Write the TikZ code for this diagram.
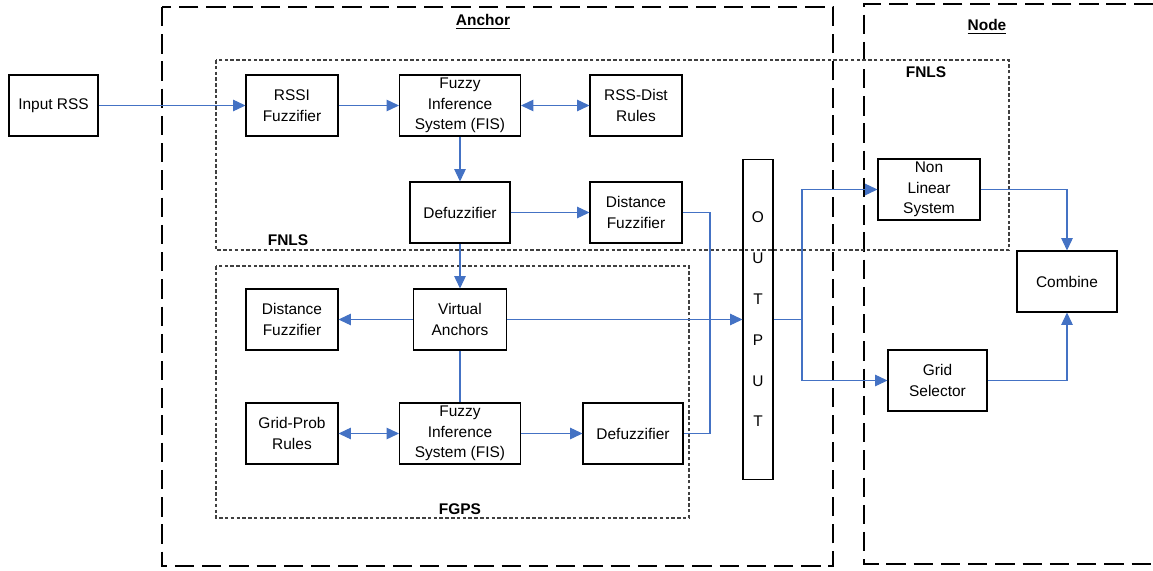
\documentclass[tikz,border=0pt]{standalone}
\usepackage{fontspec}
\setmainfont{Liberation Sans}
\usetikzlibrary{arrows.meta}
\definecolor{flowblue}{RGB}{68,114,196}

\begin{document}
\begin{tikzpicture}[x=0.02cm,y=-0.02cm,
  every node/.style={font=\fontsize{8.8}{11.6}\selectfont,align=center},
  box/.style={draw,line width=0.6pt,minimum height=1.22cm,inner sep=1pt},
  flow/.style={draw=flowblue,line width=0.6pt,-{Triangle[length=7pt,width=6.5pt]}},
  twoway/.style={draw=flowblue,line width=0.6pt,{Triangle[length=7pt,width=6.5pt]}-{Triangle[length=7pt,width=6.5pt]}},
  link/.style={draw=flowblue,line width=0.6pt},
  group/.style={draw=black!75,line width=0.6pt,dash pattern=on 2pt off 1.3pt},
  side/.style={draw,line width=1.6pt,dash pattern=on 11pt off 4.5pt},
  title/.style={font=\fontsize{8.8}{11.6}\selectfont\bfseries}]
  \useasboundingbox (0,0) rectangle (1153,571);

  % anchor and node sides
  \draw[side] (162,7) rectangle (833,566);
  \draw[side] (1153,4) -| (864,564) -- (1153,564);
  \node[title] (anc) at (483,22) {\underline{Anchor}};
  \node[title] (nod) at (987,27) {\underline{Node}};

  % fnls and fgps groups
  \draw[group] (216,60) rectangle (1009,250);
  \draw[group] (216,266) rectangle (689,518);
  \node[title] (fn1) at (288,240) {FNLS};
  \node[title] (fn2) at (926,72) {FNLS};
  \node[title] (fg) at (460,509) {FGPS};

  \node[box,minimum width=1.78cm] (in) at (53.5,105.5) {Input RSS};
  \node[box,minimum width=1.84cm] (rf) at (292,105.5) {RSSI\\Fuzzifier};
  \node[box,minimum width=2.42cm] (fis) at (460,105.5) {Fuzzy\\Inference\\System (FIS)};
  \node[box,minimum width=1.84cm] (rd) at (636,105.5) {RSS-Dist\\Rules};
  \node[box,minimum width=2cm] (dz) at (460,212.5) {Defuzzifier};
  \node[box,minimum width=1.84cm] (df) at (636,212.5) {Distance\\Fuzzifier};

  \node[box,minimum width=1.84cm] (df2) at (292,319.5) {Distance\\Fuzzifier};
  \node[box,minimum width=1.86cm] (va) at (460,319.5) {Virtual\\Anchors};
  \node[box,minimum width=1.84cm] (gp) at (292,433.5) {Grid-Prob\\Rules};
  \node[box,minimum width=2.42cm] (fis2) at (460,433.5) {Fuzzy\\Inference\\System (FIS)};
  \node[box,minimum width=2cm] (dz2) at (633,433.5) {Defuzzifier};

  \node[box,minimum width=0.6cm,minimum height=6.42cm,
        font=\fontsize{8.8}{23.2}\selectfont] (out) at (758,319.5) {O\\U\\T\\P\\U\\T};

  \node[box,minimum width=2.04cm] (nls) at (929,189.5) {Non\\Linear\\System};
  \node[box,minimum width=2cm] (cmb) at (1067,281.5) {Combine};
  \node[box,minimum width=1.98cm] (gs) at (937.5,380.5) {Grid\\Selector};

  \coordinate (jl) at (710,320);
  \coordinate (jr) at (802,319.5);

  \draw[flow] (in) -- (rf);
  \draw[flow] (rf) -- (fis);
  \draw[twoway] (fis) -- (rd);
  \draw[flow] (fis) -- (dz);
  \draw[flow] (dz) -- (df);
  \draw[flow] (dz) -- (va);
  \draw[link] (df) -| (jl) |- (dz2);
  \draw[flow] (va) -- (df2);
  \draw[flow] (va) -- (out);
  \draw[link] (va) -- (fis2);
  \draw[twoway] (gp) -- (fis2);
  \draw[flow] (fis2) -- (dz2);
  \draw[link] (out.east|-jr) -- (jr);
  \draw[flow] (jr) |- (nls);
  \draw[flow] (jr) |- (gs);
  \draw[flow] (nls) -| (cmb);
  \draw[flow] (gs) -| (cmb);
\end{tikzpicture}
\end{document}
